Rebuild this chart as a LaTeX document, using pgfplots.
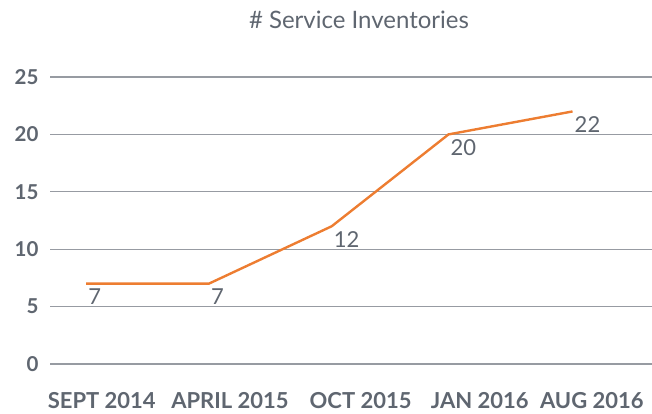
\documentclass[border=0pt]{standalone}
\usepackage{pgfplots}
\pgfplotsset{compat=1.18}
\usepackage{fontspec}
\setmainfont{Lato}
\definecolor{txt}{HTML}{5F6670}
\definecolor{gridc}{HTML}{979BA2}
\definecolor{lineorange}{HTML}{ED7D31}
\begin{document}
\begin{tikzpicture}
\useasboundingbox (-50pt,-49pt) rectangle (602pt,364pt);
\begin{axis}[
  at={(0pt,0pt)}, anchor=south west,
  scale only axis, width=602pt, height=287pt,
  xmin=-0.5, xmax=4.5, ymin=0, ymax=25,
  axis line style={draw=none},
  ymajorgrids, grid style={gridc, line width=1.2pt},
  ytick={0,5,10,15,20,25},
  xtick={-0.07,0.995,2.08,3.07,4},
  xticklabels={SEPT 2014,APRIL 2015,OCT 2015,JAN 2016,AUG 2016},
  major tick length=0pt,
  /pgf/number format/assume math mode=true,
  yticklabel style={font=\fontsize{20.5}{24}\selectfont\bfseries, text=txt, xshift=-8pt},
  xticklabel style={font=\fontsize{22}{26}\selectfont\bfseries, text=txt, yshift=-25pt},
  nodes near coords,
  every node near coord/.append style={anchor=north west, inner sep=1pt, yshift=-3pt, font=\fontsize{22}{26}\selectfont, text=txt},
  clip=false,
]
\addplot[lineorange, line width=2.4pt] coordinates {
  (-0.2,7) (0.82,7) (1.84,12) (2.81,20) (3.84,22)
};
\end{axis}
\node[font=\fontsize{24}{28}\selectfont, text=txt] at (309pt,344pt) {\# Service Inventories};
\end{tikzpicture}
\end{document}
